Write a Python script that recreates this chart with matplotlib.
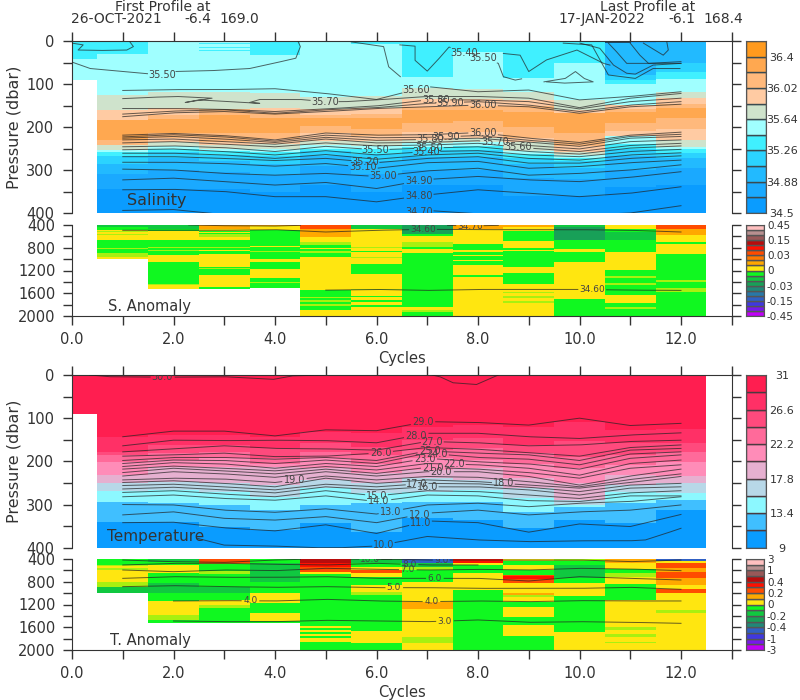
import numpy as np
import matplotlib
matplotlib.use('Agg')
import matplotlib.pyplot as plt

cycles = list(range(1, 13))
columns = list(range(0, 13))

# colour bars, bottom to top
sal_colors = ['#0a9cff', '#1aa9ff', '#22baff', '#2bd3ff', '#40f0ff', '#a0ffff',
              '#cfe3cc', '#ffcba3', '#ffb97c', '#ffa850', '#ff9a1e']
sal_ticks = ['34.5', '34.88', '35.26', '35.64', '36.02', '36.4']
tem_colors = ['#0a9cff', '#40bfff', '#8cf8ff', '#b8d8e8', '#e6b0d0', '#ff8cb8',
              '#ff6a9a', '#ff4a7d', '#ff3066', '#ff1e50']
tem_ticks = ['9', '13.4', '17.8', '22.2', '26.6', '31']
anom_palette = {'g': '#10f820', 'G': '#10c840', 'd': '#18a058', 't': '#208878', 'c': '#2878a8',
                'b': '#3060c4', 'i': '#4038e0', 'v': '#7818ec', 'p': '#c000f8',
                'y': '#ffe610', 'a': '#ffa800', 'o': '#ff7800', 'O': '#ff4c00', 'r': '#ff1000',
                'R': '#b80c0c', 'B': '#985858', 'H': '#b89090', 'P': '#ffc0c0', 'l': '#a8f010'}
san_bar = 'pvibctdGgyaoOrRBHP'
tan_bar = 'pvibtdGgyaOrRBHP'
san_ticks = ['-0.45', '-0.15', '-0.03', '0', '0.03', '0.15', '0.45']
tan_ticks = ['-3', '-1', '-0.4', '-0.2', '0', '0.2', '0.4', '1', '3']

# salinity colour bands per cycle: bottom pressure of each band, and band number
sal_edges = [
    [43, 90],
    [31, 125, 160, 184, 230, 242, 253, 258, 268, 285, 310, 345, 400],
    [118, 156, 172, 182, 215, 225, 235, 245, 250, 258, 272, 300, 345, 400],
    [5, 8, 13, 16, 20, 23, 118, 158, 172, 215, 235, 242, 250, 256, 264, 280, 305, 345, 400],
    [33, 122, 155, 168, 180, 215, 228, 240, 250, 258, 268, 285, 312, 350, 400],
    [130, 157, 172, 180, 198, 215, 232, 242, 250, 256, 268, 290, 335, 400],
    [8, 128, 156, 170, 180, 205, 220, 232, 245, 252, 262, 280, 310, 352, 400],
    [83, 110, 135, 154, 160, 191, 211, 230, 238, 246, 253, 269, 300, 335, 400],
    [25, 112, 135, 152, 160, 185, 212, 226, 236, 244, 253, 270, 300, 335, 400],
    [87, 118, 138, 150, 165, 200, 225, 235, 255, 262, 272, 285, 318, 360, 400],
    [52, 137, 160, 168, 215, 245, 258, 265, 272, 280, 295, 320, 360, 400],
    [4, 80, 90, 100, 148, 157, 165, 190, 210, 222, 240, 252, 268, 300, 340, 400],
    [52, 72, 88, 118, 133, 147, 155, 178, 205, 230, 246, 252, 260, 272, 295, 335, 400],
]
sal_bands = [
    [4, 5],
    [4, 5, 6, 7, 9, 8, 6, 5, 4, 3, 2, 1, 0],
    [5, 6, 7, 8, 9, 8, 7, 6, 5, 4, 3, 2, 1, 0],
    [5, 4, 5, 4, 5, 4, 5, 6, 8, 9, 8, 7, 6, 5, 4, 3, 2, 1, 0],
    [4, 5, 6, 7, 8, 9, 8, 7, 6, 5, 4, 3, 2, 1, 0],
    [5, 6, 7, 8, 9, 8, 7, 6, 5, 4, 3, 2, 1, 0],
    [4, 5, 6, 7, 8, 9, 8, 7, 6, 5, 4, 3, 2, 1, 0],
    [4, 5, 6, 7, 8, 9, 8, 7, 6, 5, 4, 3, 2, 1, 0],
    [4, 5, 6, 7, 8, 9, 8, 7, 6, 5, 4, 3, 2, 1, 0],
    [4, 5, 6, 7, 8, 9, 8, 7, 6, 5, 4, 3, 2, 1, 0],
    [4, 5, 6, 7, 9, 8, 7, 6, 5, 4, 3, 2, 1, 0],
    [1, 2, 3, 4, 5, 7, 8, 9, 8, 7, 5, 4, 3, 2, 1, 0],
    [2, 3, 4, 5, 6, 7, 8, 9, 8, 7, 6, 5, 4, 3, 2, 1, 0],
]

# temperature colour bands
tem_edges = [
    [90],
    [143, 178, 185, 201, 232, 251, 268, 293, 340, 400],
    [139, 162, 181, 197, 212, 247, 266, 297, 340, 400],
    [139, 162, 178, 193, 212, 251, 270, 301, 351, 400],
    [143, 170, 193, 205, 212, 255, 282, 313, 359, 400],
    [131, 158, 178, 193, 216, 243, 262, 301, 343, 400],
    [135, 166, 185, 205, 228, 251, 274, 297, 363, 400],
    [120, 150, 174, 193, 220, 239, 270, 293, 332, 400],
    [116, 147, 170, 197, 216, 243, 266, 293, 336, 400],
    [120, 162, 181, 205, 239, 262, 286, 317, 355, 400],
    [108, 154, 189, 216, 251, 290, 300, 305, 336, 400],
    [127, 158, 185, 208, 232, 255, 270, 297, 342, 400],
    [124, 158, 178, 201, 234, 251, 273, 290, 313, 400],
]
tem_bands = [[9]] + [[9, 8, 7, 6, 5, 4, 3, 2, 1, 0]] * 12

# salinity anomaly bands, starting at cycle 1
san_edges = [
    [440, 493, 510, 525, 560, 575, 669, 800, 815, 900, 960, 990],
    [464, 505, 669, 785, 800, 844, 860, 931, 1048, 1440, 1460, 1533],
    [464, 511, 525, 535, 550, 610, 669, 785, 800, 844, 860, 902, 1136, 1150, 1170, 1282, 1498, 1533],
    [418, 481, 774, 790, 860, 875, 990, 1048, 1182, 1340, 1400, 1420, 1515],
    [464, 610, 698, 756, 800, 815, 860, 890, 960, 1544, 1660, 1680, 1720, 1750, 1790, 1830, 1895, 2000],
    [464, 785, 800, 860, 880, 960, 975, 1077, 1253, 1530, 1545, 1640, 1670, 1720, 1750, 1810, 1850, 2000],
    [552, 599, 698, 785, 830, 890, 1836, 1895, 1930, 2000],
    [464, 727, 844, 870, 930, 950, 1010, 1030, 1107, 1282, 1311, 2000],
    [430, 505, 680, 797, 840, 860, 1136, 1240, 1440, 1574, 1600, 1640, 1680, 1730, 1780, 2000],
    [435, 669, 815, 873, 1048, 1708, 2000],
    [464, 523, 669, 873, 1194, 1300, 1340, 1420, 1460, 1632, 1778, 1837, 1870, 2000],
    [464, 581, 698, 727, 902, 1369, 1400, 1500, 1570, 2000],
]
san_bands = ['Ggylylyglgly', 'Ggyglglgygly', 'aygyglyglgygyglgyg', 'aygyglgygyglg',
             'Oaylgyglgyglglglgy', 'Gylygylygylygygygy', 'dgylgygylg', 'aygygygygygy',
             'aygygygygylylyly', 'Gdgygyg', 'ygGgyglglgyglg', 'Oaygyglglg']

# temperature anomaly bands, starting at cycle 1
tan_edges = [
    [505, 530, 564, 593, 798, 886, 992],
    [447, 505, 652, 828, 1004, 1138, 1384, 1472, 1531],
    [464, 488, 605, 664, 886, 1004, 1121, 1209, 1267, 1531],
    [476, 798, 1004, 1179, 1343, 1490, 1520],
    [476, 535, 623, 664, 1578, 1619, 1648, 1677, 1718, 1754, 1790, 1853, 2000],
    [464, 535, 593, 640, 711, 857, 974, 1033, 1666, 1883, 2000],
    [476, 535, 593, 798, 1150, 1285, 1777, 1871, 2000],
    [464, 505, 652, 945, 2000],
    [429, 505, 593, 681, 700, 760, 828, 1004, 1033, 1062, 1150, 1238, 1414, 1560, 1754, 2000],
    [429, 505, 740, 828, 1050, 1677, 2000],
    [464, 582, 652, 711, 839, 1121, 1590, 1648, 1718, 1777, 1853, 1883, 2000],
    [429, 464, 564, 623, 740, 857, 933, 1004, 1297, 1343, 2000],
]
tan_bands = ['glylylG', 'GgygGgylg', 'OaglgGgylg', 'gGgygyg', 'RrOygygygygyg', 'GgyOygylgyg',
             'bGlgyayly', 'rygyg', 'ygygOrOyalygygyg', 'lgGgygy', 'ayglygylylyly', 'byOaOayOyly']

# salinity contours, pressure at cycles 1..12
s3470 = [394, 392, 404, 410, 412, 410, 394, 402, 405, 405, 400, 383]
s3480 = [346, 345, 350, 362, 362, 374, 358, 346, 354, 362, 354, 339]
s3490 = [323, 319, 327, 335, 329, 343, 322, 315, 323, 327, 317, 304]
s3500 = [298, 300, 308, 312, 308, 315, 302, 296, 312, 308, 300, 288]
s3510 = [282, 282, 285, 291, 285, 296, 283, 280, 296, 292, 283, 277]
s3520 = [269, 269, 273, 278, 273, 283, 273, 269, 284, 284, 273, 267]
s3530 = [261, 261, 265, 273, 264, 275, 265, 261, 273, 277, 265, 260]
s3540 = [253, 251, 257, 265, 255, 265, 257, 255, 265, 269, 257, 252]
s3550 = [246, 244, 248, 257, 245, 253, 249, 246, 257, 263, 249, 244]
s3560 = [237, 234, 240, 246, 237, 244, 242, 238, 249, 257, 243, 238]
s3570 = [230, 228, 234, 240, 228, 237, 236, 232, 243, 251, 234, 230]
s3580 = [226, 222, 228, 236, 224, 231, 229, 226, 235, 245, 226, 222]
s3590 = [223, 218, 223, 233, 219, 225, 224, 220, 231, 240, 222, 217]
s3600 = [219, 215, 220, 230, 214, 219, 218, 213, 226, 236, 219, 212]
s3600up = [176, 167, 164, 170, 164, 157, 153, 149, 153, 168, 153, 147]
s3590up = [170, 163, 160, 168, 160, 155, 145, 141, 149, 164, 149, 141]
s3580up = [157, 157, 159, 164, 158, 151, 137, 137, 141, 158, 141, 133]
s3560up = [115, 113, 113, 111, 122, 136, 106, 118, 114, 137, 129, 118]

# salinity contours that fold back, cycle and pressure pairs
w3570_x = [1, 1.54, 2.07, 2.76, 2.23, 2.5, 3.7, 3.5, 3.7, 4.5, 4.98, 5.4, 6, 7, 8, 9, 10, 11, 12]
w3570_y = [134, 131, 129, 133, 143, 137, 145, 143, 136, 136, 141, 141, 137, 129, 129, 133, 155, 133, 122]
a3550_x = [0, .36, 1, 1.77, 2, 2.74, 3.5, 3.97, 4.41, 4.5, 4.45]
a3550_y = [49, 64, 71, 79, 71, 69, 64, 52, 40, 13, 0]
b3540_x = [0, .22, .12, .55, 1.08, 1.21, 1.14]
b3540_y = [5, 9, 21, 22, 21, 13, 2]
c3550_x = [5.5, 6.14, 6.24, 6.47]
c3550_y = [2, 13, 60, 83]
d3540_x = [6.46, 6.76, 6.76, 7, 7.2, 7.43, 7.73, 8.1, 8.4, 8.5, 8.73, 8.86]
d3540_y = [9, 12, 45, 70, 45, 14, 29, 40, 52, 83, 91, 88]
e3550_x = [8.5, 8.83, 9, 9.35, 9.95, 10.47, 10.6]
e3550_y = [29, 33, 71, 44, 21, 52, 56]
f3560_x = [9.3, 9.72, 9.92, 10.09, 10.27, 9.72, 9.35]
f3560_y = [95, 87, 71, 87, 95, 98, 95]
r1_x = [9.68, 10.24, 10.44, 10.57, 11.1, 11.45, 11.98]
r1_y = [5, 9, 52, 79, 87, 64, 64]
r2_x = [10.01, 10.4, 10.67, 10.93, 11.1, 11.45, 12]
r2_y = [5, 17, 56, 75, 77, 56, 52]
r3_x = [10.57, 10.73, 10.93, 12]
r3_y = [5, 25, 52, 52]
r4_x = [11, 11.19, 11.36, 12]
r4_y = [5, 33, 52, 48]
r5_x = [11.26, 11.65, 11.75, 11.72]
r5_y = [5, 33, 21, 2]
r6_x = [10.5, 11]
r6_y = [3, 3]

# temperature contours
t29 = [143, 130, 130, 141, 127, 129, 108, 110, 116, 100, 117, 112]
t28 = [164, 151, 152, 151, 152, 157, 135, 135, 143, 147, 139, 134]
t27 = [178, 171, 164, 170, 171, 174, 154, 157, 164, 162, 154, 151]
t26 = [188, 185, 181, 189, 188, 181, 168, 172, 180, 188, 168, 162]
t25 = [198, 191, 191, 195, 191, 198, 176, 181, 185, 198, 174, 170]
t24 = [205, 197, 198, 205, 197, 205, 181, 191, 195, 208, 183, 178]
t23 = [212, 203, 206, 216, 205, 212, 193, 201, 206, 218, 193, 185]
t22 = [218, 211, 216, 222, 212, 220, 205, 208, 216, 232, 205, 197]
t21 = [226, 216, 222, 229, 218, 228, 214, 218, 226, 239, 216, 208]
t20 = [234, 224, 229, 237, 224, 234, 224, 224, 235, 255, 234, 218]
t19 = [243, 239, 241, 249, 234, 243, 235, 237, 247, 259, 242, 229]
t18 = [249, 245, 251, 259, 239, 251, 243, 247, 255, 262, 249, 235]
t17 = [256, 253, 259, 266, 253, 259, 251, 252, 260, 270, 255, 251]
t16 = [264, 260, 266, 273, 259, 266, 259, 259, 266, 278, 262, 259]
t15 = [272, 268, 276, 282, 268, 280, 268, 270, 278, 286, 273, 268]
t14 = [282, 278, 286, 290, 280, 293, 278, 280, 291, 293, 280, 280]
t13 = [300, 301, 313, 318, 310, 322, 301, 297, 305, 297, 293, 282]
t12 = [324, 317, 332, 336, 328, 342, 320, 313, 324, 317, 313, 301]
t11 = [342, 341, 354, 361, 347, 367, 338, 342, 364, 345, 351, 323]
t10_x = [2.46, 3, 3.95, 4.8, 5.3, 6, 7, 8, 9, 10, 11, 11.3, 11.7, 12]
t10_y = [378, 394, 396, 400, 400, 396, 374, 382, 386, 384, 384, 382, 367, 355]
t30_x = [.35, .75, 1.78, 2, 3, 3.97, 4.35, 4.97]
t30_y = [0, 4, 5, 5, 4, 10, 2, 0]
t30b_x = [7.1, 7.25, 7.51, 7.97, 8.3, 8.4]
t30b_y = [0, 4, 18, 22, 5, 0]

# anomaly panel contours
sa60 = [493, 493, 493, 482, 523, 493, 476, 482, 482, 482, 493, 523]
sa70_x = [2.3, 3, 4, 4.5]
sa70_y = [400, 412, 418, 406]
sb70_x = [7.4, 7.84, 8.4]
sb70_y = [406, 418, 406]
sc60_x = [5, 6, 7, 8, 9, 10, 11, 12]
sc60_y = [1545, 1533, 1550, 1533, 1533, 1533, 1545, 1550]
ta7 = [593, 623, 593, 605, 564, 582, 593, 582, 593, 564, 576, 605]
ta6 = [740, 711, 722, 722, 711, 740, 740, 740, 787, 711, 740, 769]
ta5 = [886, 869, 886, 898, 886, 904, 904, 916, 916, 916, 898, 933]
ta8_x = [1, 2, 3, 4, 5, 6, 7, 8]
ta8_y = [505, 476, 476, 494, 505, 476, 505, 505]
ta9_x = [1, 2, 3, 4, 4.5]
ta9_y = [418, 447, 459, 418, 406]
tb9_x = [6, 6.5, 7, 7.5, 8, 9, 10, 11, 12]
tb9_y = [406, 406, 418, 418, 418, 418, 418, 447, 418]
ta10_x = [5.5, 5.88, 6.3]
ta10_y = [402, 405, 402]
ta4 = [1138, 1132, 1138, 1109, 1138, 1150, 1138, 1150, 1132, 1138, 1138]
ta3 = [1490, 1502, 1502, 1478, 1490, 1502, 1472, 1513, 1502, 1513, 1531]

INK = '#333333'
LINE = '#222222'


def px_axes(fig, left, top, right, bottom):
    return fig.add_axes([left / 800, 1 - bottom / 700, (right - left) / 800, (bottom - top) / 700])


def fill_columns(ax, first, edges, bands, colors, top):
    # deepest band first, each one painted from the top so no gaps show
    for i, (col_edges, col_bands) in enumerate(zip(edges, bands)):
        for lower, band in reversed(list(zip(col_edges, col_bands))):
            ax.bar(first + i, lower - top, bottom=top, width=1.0, color=colors[band],
                   linewidth=0, zorder=1)


def iso(ax, x, y, labels=(), size=7):
    # contour line, left open where a label sits on it
    n = len(x)
    t = np.linspace(0, n - 1, (n - 1) * 30 + 1)
    xs = np.interp(t, np.arange(n), x)
    ys = np.interp(t, np.arange(n), y)
    for text, at in labels:
        k = np.argmin(np.abs(xs - at))
        ax.text(at, ys[k], text, fontsize=size, color='#444444', ha='center', va='center',
                zorder=4, clip_on=True)
        ys[np.abs(xs - at) < 0.055 * len(text)] = np.nan
    ax.plot(xs, ys, color=LINE, lw=0.7, alpha=0.7, zorder=3)


def main_panel(fig, top, bottom):
    ax = px_axes(fig, 72, top, 731.75, bottom)
    ax.set_xlim(0, 13)
    ax.set_ylim(400, 0)
    ax.set_xticks(range(14))
    ax.set_yticks(range(0, 401, 50))
    ax.set_yticklabels([str(v) if v % 100 == 0 else '' for v in range(0, 401, 50)], fontsize=10.5, color=INK)
    ax.tick_params(axis='x', top=True, bottom=False, labeltop=False, labelbottom=False,
                   length=6.5, width=1, color=INK)
    ax.tick_params(axis='y', left=True, right=True, length=6.5, width=1, color=INK, pad=6.5)
    ax.spines['bottom'].set_visible(False)
    for s in ['top', 'left', 'right']:
        ax.spines[s].set_color(INK)
    return ax


def anom_panel(fig, top, bottom):
    ax = px_axes(fig, 72, top, 731.75, bottom)
    ax.set_xlim(0, 13)
    ax.set_ylim(2000, 400)
    ax.set_xticks(range(14))
    ax.set_xticklabels(['%.1f' % v if v % 2 == 0 and v < 13 else '' for v in range(14)], fontsize=10.5, color=INK)
    ax.set_yticks(range(400, 2001, 200))
    ax.set_yticklabels([str(v) if v % 400 == 0 else '' for v in range(400, 2001, 200)], fontsize=10.5, color=INK)
    ax.tick_params(axis='x', length=6.5, width=1, color=INK, pad=5)
    ax.tick_params(axis='y', left=True, right=True, length=6.5, width=1, color=INK, pad=5.5)
    ax.spines['top'].set_visible(False)
    for s in ['bottom', 'left', 'right']:
        ax.spines[s].set_color(INK)
    return ax


def color_bar(fig, left, top, right, bottom, colors, ticks, step, edge, centre, size):
    ax = px_axes(fig, left, top, right, bottom)
    n = len(colors)
    for i, c in enumerate(colors):
        ax.bar(0, 1, bottom=i, width=1, color=c, edgecolor=edge, linewidth=1.0)
    ax.set_xlim(-0.5, 0.5)
    ax.set_ylim(0, n)
    ax.set_xticks([])
    ax.yaxis.tick_right()
    ax.set_yticks(range(0, n + 1, step)[:len(ticks)])
    ax.set_yticklabels(ticks, fontsize=size, color=INK, ha='center' if centre else 'left')
    ax.tick_params(axis='y', length=0, pad=11.5 if centre else 2.5)
    for s in ax.spines.values():
        s.set_color('#555555')
    return ax


fig = plt.figure(figsize=(8, 7), dpi=100)


def label(x, y, text, size=10, **kw):
    fig.text(x / 800, 1 - y / 700, text, fontsize=size, color=INK, va='center', **kw)


# salinity
ax = main_panel(fig, 41, 213)
fill_columns(ax, 0, sal_edges, sal_bands, sal_colors, 0)
iso(ax, cycles, s3470, [('34.70', 6.84)])
iso(ax, cycles, s3480, [('34.80', 6.84)])
iso(ax, cycles, s3490, [('34.90', 6.84)])
iso(ax, cycles, s3500, [('35.00', 6.13)])
iso(ax, cycles, s3510, [('35.10', 5.74)])
iso(ax, cycles, s3520, [('35.20', 5.78)])
iso(ax, cycles, s3530)
iso(ax, cycles, s3540, [('35.40', 6.98)])
iso(ax, cycles, s3550, [('35.50', 5.98), ('35.50', 7.03)])
iso(ax, cycles, s3560, [('35.60', 8.8)])
iso(ax, cycles, s3570, [('35.70', 8.34)])
iso(ax, cycles, s3580, [('35.80', 7.05)])
iso(ax, cycles, s3590, [('35.90', 7.38)])
iso(ax, cycles, s3600, [('36.00', 8.1)])
iso(ax, cycles, s3600up, [('36.00', 8.1)])
iso(ax, cycles, s3590up, [('35.90', 7.45)])
iso(ax, cycles, s3580up, [('35.80', 7.17)])
iso(ax, cycles, s3560up, [('35.60', 6.78)])
iso(ax, w3570_x, w3570_y, [('35.70', 4.98)])
iso(ax, a3550_x, a3550_y, [('35.50', 1.77)])
iso(ax, b3540_x, b3540_y)
iso(ax, c3550_x, c3550_y)
iso(ax, d3540_x, d3540_y, [('35.40', 7.73), ('35.50', 8.1)])
iso(ax, e3550_x, e3550_y)
iso(ax, f3560_x, f3560_y)
iso(ax, r1_x, r1_y)
iso(ax, r2_x, r2_y)
iso(ax, r3_x, r3_y)
iso(ax, r4_x, r4_y)
iso(ax, r5_x, r5_y)
iso(ax, r6_x, r6_y)

# salinity anomaly
ax = anom_panel(fig, 225, 316)
fill_columns(ax, 1, san_edges, san_bands, anom_palette, 400)
iso(ax, cycles, sa60, [('34.60', 6.92)], size=6.5)
iso(ax, sa70_x, sa70_y)
iso(ax, sb70_x, sb70_y, [('34.70', 7.84)], size=6.5)
iso(ax, sc60_x, sc60_y, [('34.60', 10.25)], size=6.5)

# temperature
ax = main_panel(fig, 375, 547.7)
fill_columns(ax, 0, tem_edges, tem_bands, tem_colors, 0)
iso(ax, cycles, t29, [('29.0', 6.92)])
iso(ax, cycles, t28, [('28.0', 6.78)])
iso(ax, cycles, t27, [('27.0', 7.1)])
iso(ax, cycles, t26, [('26.0', 6.08)])
iso(ax, cycles, t25, [('25.0', 7.05)])
iso(ax, cycles, t24, [('24.0', 7.2)])
iso(ax, cycles, t23, [('23.0', 6.95)])
iso(ax, cycles, t22, [('22.0', 7.52)])
iso(ax, cycles, t21, [('21.0', 7.12)])
iso(ax, cycles, t20, [('20.0', 7.28)])
iso(ax, cycles, t19, [('19.0', 4.38)])
iso(ax, cycles, t18, [('18.0', 8.5)])
iso(ax, cycles, t17, [('17.0', 6.79)])
iso(ax, cycles, t16, [('16.0', 7.0)])
iso(ax, cycles, t15, [('15.0', 6.01)])
iso(ax, cycles, t14, [('14.0', 6.05)])
iso(ax, cycles, t13, [('13.0', 6.28)])
iso(ax, cycles, t12, [('12.0', 6.85)])
iso(ax, cycles, t11, [('11.0', 6.86)])
iso(ax, t10_x, t10_y, [('10.0', 6.14)])
iso(ax, t30_x, t30_y, [('30.0', 1.78)])
iso(ax, t30b_x, t30b_y)

# temperature anomaly
ax = anom_panel(fig, 559, 650)
fill_columns(ax, 1, tan_edges, tan_bands, anom_palette, 400)
iso(ax, cycles, ta7, [('7.0', 6.61)], size=6.5)
iso(ax, cycles, ta6, [('6.0', 7.15)], size=6.5)
iso(ax, cycles, ta5, [('5.0', 6.34)], size=6.5)
iso(ax, ta8_x, ta8_y, [('8.0', 6.66)], size=6.5)
iso(ax, ta9_x, ta9_y)
iso(ax, tb9_x, tb9_y, [('9.0', 7.28)], size=6.5)
iso(ax, ta10_x, ta10_y, [('10.0', 5.88)], size=6.5)
iso(ax, cycles[1:], ta4, [('4.0', 3.53), ('4.0', 7.09)], size=6.5)
iso(ax, cycles[1:], ta3, [('3.0', 7.34)], size=6.5)

# colour bars
color_bar(fig, 745.7, 41, 766, 213, sal_colors, sal_ticks, 2, '#3a4a50', True, 8)
color_bar(fig, 745.7, 225, 763.5, 316, [anom_palette[c] for c in san_bar], san_ticks, 3, '#555555', False, 7.5)
color_bar(fig, 745.7, 375, 766, 547.7, tem_colors, tem_ticks, 2, '#4a3a40', True, 8)
color_bar(fig, 745.7, 559, 763.5, 650, [anom_palette[c] for c in tan_bar], tan_ticks, 2, '#555555', False, 7.5)

# header and titles
label(163, 7, 'First Profile at', ha='center')
label(116, 19, '26-OCT-2021', ha='center')
label(198, 19, '-6.4', ha='center')
label(239, 19, '169.0', ha='center')
label(648, 7, 'Last Profile at', ha='center')
label(602, 19, '17-JAN-2022', ha='center')
label(682, 19, '-6.1', ha='center')
label(723, 19, '168.4', ha='center')
label(157, 201, 'Salinity', size=11.5, ha='center')
label(150, 306, 'S. Anomaly', size=10.5, ha='center')
label(156, 536, 'Temperature', size=11, ha='center')
label(150, 640, 'T. Anomaly', size=10.5, ha='center')
label(402, 358, 'Cycles', size=10.5, ha='center')
label(402, 692, 'Cycles', size=10.5, ha='center')
label(14, 127, 'Pressure (dbar)', size=11.5, ha='center', rotation=90)
label(14, 461, 'Pressure (dbar)', size=11.5, ha='center', rotation=90)

fig.savefig('out.png', dpi=100)
